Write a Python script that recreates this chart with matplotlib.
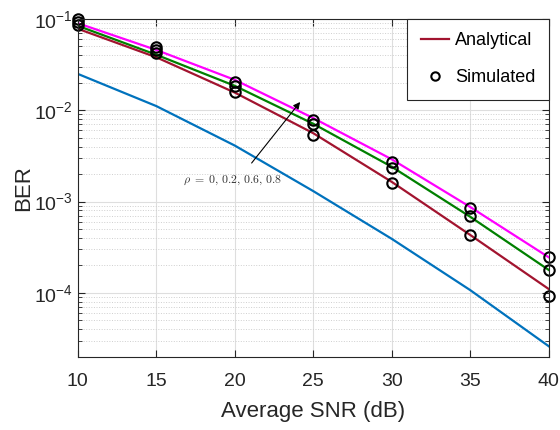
import matplotlib
matplotlib.use('Agg')
import matplotlib.pyplot as plt
from matplotlib.lines import Line2D
from matplotlib.ticker import LogLocator, FixedLocator

# average SNR in dB
snr = [10, 15, 20, 25, 30, 35, 40]

# analytical BER curves
ber_blue = [0.025, 0.0111, 0.0041, 0.00130, 0.00039, 0.000107, 0.000026]
ber_red = [0.078, 0.038, 0.0156, 0.0056, 0.00164, 0.00043, 0.00011]
ber_green = [0.084, 0.0405, 0.0185, 0.0071, 0.0024, 0.00068, 0.000178]
ber_magenta = [0.0897, 0.0457, 0.0215, 0.0082, 0.0029, 0.00087, 0.000245]

# simulated BER points
sim_red = [0.086, 0.042, 0.016, 0.0053, 0.00161, 0.00043, 0.000092]
sim_green = [0.093, 0.0457, 0.0185, 0.0071, 0.00232, 0.00069, 0.000178]
sim_magenta = [0.100, 0.0498, 0.0206, 0.0078, 0.00273, 0.00086, 0.000245]

x_ticks = [10, 15, 20, 25, 30, 35, 40]
y_ticks = [1e-4, 1e-3, 1e-2, 1e-1]
y_tick_labels = [r'$\mathregular{10^{-4}}$', r'$\mathregular{10^{-3}}$',
                 r'$\mathregular{10^{-2}}$', r'$\mathregular{10^{-1}}$']
rho_text = r'$\rho\;=\;0,\,0.2,\,0.6,\,0.8$'

plt.rcParams['font.family'] = ['Liberation Sans', 'DejaVu Sans']
plt.rcParams['mathtext.fontset'] = 'cm'

fig = plt.figure(figsize=(5.6, 4.3), dpi=100)
ax = fig.add_axes([0.139, 0.1705, 0.841, 0.7855])

ax.plot(snr, ber_blue, color='#0072BD', lw=1.6)
ax.plot(snr, ber_magenta, color='#FF00FF', lw=1.6)
ax.plot(snr, ber_green, color='#008000', lw=1.6)
ax.plot(snr, ber_red, color='#A2142F', lw=1.6)
for sim in (sim_red, sim_green, sim_magenta):
    ax.plot(snr, sim, 'o', mfc='none', mec='black', mew=1.5, ms=7.5, clip_on=False)

ax.set_yscale('log')
ax.set_xlim(10, 40)
ax.set_ylim(2e-5, 1e-1)
ax.xaxis.set_major_locator(FixedLocator(x_ticks))
ax.yaxis.set_major_locator(FixedLocator(y_ticks))
ax.set_yticklabels(y_tick_labels)
ax.yaxis.set_minor_locator(LogLocator(base=10, subs=range(2, 10)))
ax.yaxis.set_minor_formatter(plt.NullFormatter())

ax.grid(which='major', color='#dedede', lw=0.8)
ax.grid(which='minor', axis='y', color='#cfcfcf', lw=0.7, linestyle=':')
ax.set_axisbelow(True)

ax.tick_params(which='both', direction='in', top=True, right=True,
               colors='#262626', labelsize=14)
ax.tick_params(which='major', length=5)
ax.tick_params(which='minor', length=3)
ax.tick_params(axis='x', pad=12)
for sp in ax.spines.values():
    sp.set_color('#262626')
    sp.set_linewidth(0.8)

ax.set_xlabel('Average SNR (dB)', fontsize=16, color='#262626', labelpad=8)
ax.set_ylabel('BER', fontsize=16, color='#262626', labelpad=0)

ax.annotate('', xy=(24.27, 0.013), xytext=(20.96, 0.0025),
            arrowprops=dict(arrowstyle='-|>', lw=0.8, color='black', mutation_scale=10))
ax.text(16.7, 1.7e-3, rho_text, fontsize=8.5, color='#333333', va='center', ha='left')

handles = [Line2D([], [], color='#A2142F', lw=1.6),
           Line2D([], [], ls='none', marker='o', mfc='none', mec='black', mew=1.5, ms=6)]
leg = ax.legend(handles, ['Analytical', 'Simulated'], loc='upper right', fontsize=13,
                fancybox=False, framealpha=1, edgecolor='#262626', borderaxespad=0,
                handlelength=1.6, handletextpad=0.3, labelspacing=1.1, borderpad=0.75)
leg.get_frame().set_linewidth(0.8)

fig.savefig('out.png', dpi=100)
